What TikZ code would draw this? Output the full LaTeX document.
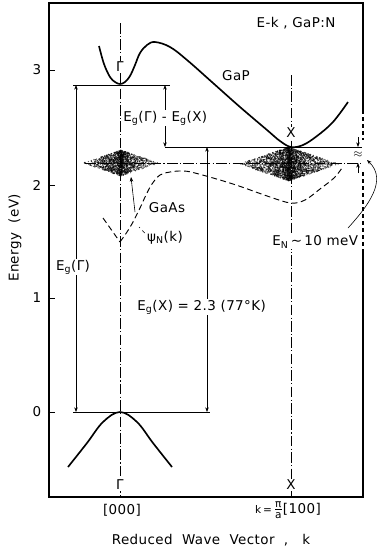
\documentclass[tikz,border=0pt]{standalone}
\usepackage{fontspec}
\setmainfont{DejaVu Sans}[LetterSpace=3]
\usetikzlibrary{positioning,arrows.meta,calc}

\begin{document}
\begin{tikzpicture}[x=0.03cm,y=-0.03cm,
    band/.style={line width=1.4pt,black},
    frame/.style={line width=1.1pt},
    level/.style={line width=0.5pt},
    kline/.style={line width=0.5pt,dash pattern=on 9pt off 2pt on 1pt off 2pt},
    gaas/.style={line width=0.8pt,dash pattern=on 5pt off 3pt},
    dimarrow/.style={{Stealth[length=4pt,width=3pt]}-{Stealth[length=4pt,width=3pt]},line width=0.5pt},
    tip/.style={-{Stealth[length=4pt,width=3pt]},line width=0.5pt},
    lbl/.style={font=\fontsize{11.5}{13}\selectfont,inner sep=1pt},
    cover/.style={lbl,fill=white}
]
    \useasboundingbox (0,0) rectangle (383,549);

    % impurity clouds
    \pgfmathsetseed{7}
    \foreach \cx/\cy/\a/\b/\n in {121/163/38/13/1500,289/164/50/17/2600}{
        \foreach \i in {1,...,\n}{
            \pgfmathsetmacro\t{(2*rnd-1)*rnd}
            \pgfmathsetmacro\s{(2*rnd-1)*(1-abs(\t))}
            \fill[black,opacity=0.6] (\cx+\a*\t,\cy+\b*\s) circle (0.6pt);
        }
    }

    % frame and ticks
    \draw[frame] (363,110) -- (363,3) -- (49,3) -- (49,497) -- (363,497) -- (363,252);
    \draw[frame,dashed] (363,110) -- (363,140);
    \draw[frame,dashed] (363,172) -- (363,252);
    \foreach \yy/\ee in {70/3,185/2,298/1,412/0}{
        \draw[level] (49,\yy) -- (55,\yy);
        \node[lbl] (tick\ee) at (37,\yy) {\ee};
    }

    % symmetry lines
    \draw[kline] (120,23) -- (120,497);
    \draw[kline] (291,75) -- (291,497);

    % energy levels
    \coordinate (gl) at (73,85);   \coordinate (gr) at (170,85);
    \coordinate (xl) at (165,147); \coordinate (xr) at (362,147);
    \coordinate (nl) at (85,163);  \coordinate (nr) at (362,163);
    \coordinate (vl) at (73,412);  \coordinate (vr) at (210,412);
    \draw[level] (gl) -- (gr);
    \draw[level] (xl) -- (xr);
    \draw[kline] (nl) -- (nr);
    \draw[level] (vl) -- (vr);

    % band curves
    \draw[band] plot[smooth,tension=0.6] coordinates {(99,46) (104,64) (110,77) (115,82) (120,84) (125,82) (130,76) (135,65) (140,53) (147,45) (155,42) (170,47) (187,60) (213,83) (240,107) (267,130) (280,141) (291,147) (303,145) (317,136) (333,122) (348,102)};
    \draw[band] plot[smooth,tension=0.6] coordinates {(68,467) (87,443) (103,422) (120,412) (137,422) (153,443) (172,467)};
    \draw[gaas] (103,218) -- (120,242);
    \draw[gaas] plot[smooth,tension=0.6] coordinates {(120,242) (127,232) (133,222) (140,208) (146,195) (152,184) (160,175) (170,172) (182,171) (195,173) (233,184) (270,197) (291,203) (305,200) (320,189) (334,178) (342,168)};

    % gap arrows
    \draw[dimarrow] (76,85) -- (76,412);
    \draw[dimarrow] (165,85) -- (xl);
    \draw[dimarrow] (207,147) -- (207,412);

    % splitting marker
    \coordinate (mt) at (358,137); \coordinate (mb) at (358,173);
    \draw[tip] (mt) -- (358,147);
    \draw[tip] (mb) -- (358,163);
    \node[inner sep=0pt,font=\normalsize] (approx) at (358,155) {$\approx$};

    % labels
    \node[lbl] (title) at (296,23) {E-k , GaP:N};
    \node[cover] (gtop) at (120,67) {Γ};
    \node[lbl] (gap) at (236,76) {GaP};
    \node[cover] (xtop) at (291,133) {X};
    \node[cover,anchor=west] (dgx) at (122,118) {E\textsubscript{g}(Γ) - E\textsubscript{g}(X)};
    \node[cover] (egg) at (73,267) {E\textsubscript{g}(Γ)};
    \node[cover,anchor=west] (egx) at (136,307) {E\textsubscript{g}(X) = 2.3 (77°K)};
    \node[lbl] (gaaslbl) at (167,208) {GaAs};
    \node[lbl] (psi) at (165,238) {ψ\textsubscript{N}(k)};
    \node[cover,anchor=west] (en) at (271,242) {E\textsubscript{N}\,\textasciitilde\,10 meV};
    \node[lbl,rotate=90] (elabel) at (15,238) {Energy \ (eV)};
    \node[cover] (gbot) at (120,485) {Γ};
    \node[cover] (xbot) at (291,485) {X};
    \node[lbl] (k0) at (122,510) {[000]};
    \node[lbl] (kx) at (288,510) {{\small k\,=\,}$\frac{\mbox{\small π}}{\mbox{\small a}}$[100]};
    \node[lbl] (kaxis) at (211,540) {Reduced \ Wave \ Vector \ , \ \ k};

    % pointers
    \coordinate (gaastip) at (131,177);
    \draw[tip] (135,212) -- (gaastip);
    \draw[level,dashed] (psi.west) ++(-1,-5) -- (139,227);
    \coordinate (enstart) at (348,228);
    \draw[tip] (enstart) .. controls (368,206) and (388,180) .. (367,160);
\end{tikzpicture}
\end{document}
